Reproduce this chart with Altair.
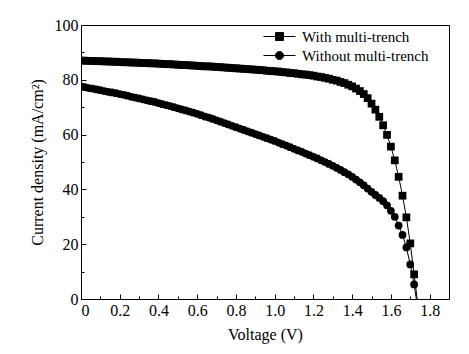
import altair as alt
import pandas as pd

# ---- data ----
voltage = [0.00, 0.02, 0.04, 0.06, 0.08, 0.10, 0.12, 0.14, 0.16, 0.18,
           0.20, 0.22, 0.24, 0.26, 0.28, 0.30, 0.32, 0.34, 0.36, 0.38,
           0.40, 0.42, 0.44, 0.46, 0.48, 0.50, 0.52, 0.54, 0.56, 0.58,
           0.60, 0.62, 0.64, 0.66, 0.68, 0.70, 0.72, 0.74, 0.76, 0.78,
           0.80, 0.82, 0.84, 0.86, 0.88, 0.90, 0.92, 0.94, 0.96, 0.98,
           1.00, 1.02, 1.04, 1.06, 1.08, 1.10, 1.12, 1.14, 1.16, 1.18,
           1.20, 1.22, 1.24, 1.26, 1.28, 1.30, 1.32, 1.34, 1.36, 1.38,
           1.40, 1.42, 1.44, 1.46, 1.48, 1.50, 1.52, 1.54, 1.56, 1.58,
           1.60, 1.62, 1.64, 1.66, 1.68, 1.70, 1.72, 1.74]

j_with = [87.0, 87.0, 86.9, 86.9, 86.8, 86.8, 86.7, 86.7, 86.6, 86.6,
          86.5, 86.4, 86.4, 86.3, 86.3, 86.2, 86.1, 86.1, 86.0, 86.0,
          85.9, 85.8, 85.7, 85.7, 85.6, 85.5, 85.4, 85.4, 85.3, 85.2,
          85.1, 85.0, 84.9, 84.9, 84.8, 84.7, 84.6, 84.5, 84.4, 84.3,
          84.2, 84.1, 84.0, 83.9, 83.8, 83.7, 83.6, 83.5, 83.3, 83.2,
          83.1, 83.0, 82.8, 82.7, 82.5, 82.4, 82.2, 82.0, 81.9, 81.7,
          81.5, 81.2, 81.0, 80.7, 80.4, 80.0, 79.7, 79.2, 78.8, 78.2,
          77.6, 76.8, 75.9, 74.8, 73.3, 71.3, 69.1, 66.5, 63.4, 59.9,
          55.6, 50.6, 44.6, 37.7, 29.8, 20.3, 9.0, -2.5]

j_without = [77.6, 77.3, 77.0, 76.8, 76.5, 76.2, 75.9, 75.6, 75.4, 75.1,
             74.8, 74.5, 74.2, 73.8, 73.5, 73.2, 72.9, 72.5, 72.2, 71.9,
             71.5, 71.1, 70.8, 70.4, 70.0, 69.6, 69.2, 68.8, 68.4, 68.0,
             67.6, 67.1, 66.6, 66.2, 65.7, 65.2, 64.7, 64.2, 63.7, 63.2,
             62.7, 62.2, 61.7, 61.2, 60.7, 60.2, 59.7, 59.2, 58.7, 58.2,
             57.7, 57.1, 56.5, 56.0, 55.4, 54.8, 54.2, 53.7, 53.1, 52.5,
             51.9, 51.3, 50.6, 50.0, 49.3, 48.6, 47.9, 47.1, 46.3, 45.5,
             44.6, 43.6, 42.6, 41.5, 40.3, 39.1, 38.0, 36.9, 35.7, 34.2,
             32.2, 30.0, 26.8, 23.4, 18.8, 12.6, 5.3, -4.0]

series_names = ["With multi-trench", "Without multi-trench"]
legend_shapes = [
    "M-4,0H-1M1,0H4M-1,-1H1V1H-1Z",
    "M-4,0H-1M1,0H4M-1,0A1,1 0 1,1 1,0A1,1 0 1,1 -1,0Z",
]

x_major = [0, 0.2, 0.4, 0.6, 0.8, 1.0, 1.2, 1.4, 1.6, 1.8]
x_minor = [0.1, 0.3, 0.5, 0.7, 0.9, 1.1, 1.3, 1.5, 1.7]
y_major = [0, 20, 40, 60, 80, 100]
y_minor = [10, 30, 50, 70, 90]

rows = []
for v, a, b in zip(voltage, j_with, j_without):
    rows.append({"V": v, "J": a, "series": series_names[0]})
    rows.append({"V": v, "J": b, "series": series_names[1]})
df = pd.DataFrame(rows)

FONT = "Liberation Serif"
xscale = alt.Scale(domain=[0, 1.9], nice=False, zero=False)
yscale = alt.Scale(domain=[0, 100], nice=False)

base = alt.Chart(df)


def tick_axes(vals_x, vals_y, size):
    ax = alt.Axis(orient="bottom", values=vals_x, labels=False, domain=False,
                  grid=False, ticks=True, tickSize=size, offset=-size,
                  tickColor="black", title=None)
    ay = alt.Axis(orient="left", values=vals_y, labels=False, domain=False,
                  grid=False, ticks=True, tickSize=size, offset=-size,
                  tickColor="black", title=None)
    return ax, ay


# main axes (labels and titles)
lines = base.mark_line(color="black", strokeWidth=1, clip=True).encode(
    x=alt.X("V:Q", scale=xscale,
            axis=alt.Axis(orient="bottom", values=x_major, ticks=False, tickSize=0,
                          domain=False, grid=False, labelPadding=3,
                          labelExpr="datum.value == 0 ? '0' : format(datum.value, '.1f')",
                          title="Voltage (V)", titlePadding=8)),
    y=alt.Y("J:Q", scale=yscale,
            axis=alt.Axis(orient="left", values=y_major, ticks=False, tickSize=0,
                          domain=False, grid=False, labelPadding=3, format="d",
                          title="Current density (mA/cm²)", titlePadding=9)),
    detail="series:N",
)

# squares + major inward ticks
ax_maj, ay_maj = tick_axes(x_major, y_major, 5)
squares = base.transform_filter(
    alt.datum.series == series_names[0]
).mark_point(filled=True, color="black", size=60, shape="square", opacity=1, clip=True).encode(
    x=alt.X("V:Q", scale=xscale, axis=ax_maj),
    y=alt.Y("J:Q", scale=yscale, axis=ay_maj),
)

# circles + minor inward ticks
ax_min, ay_min = tick_axes(x_minor, y_minor, 3)
circles = base.transform_filter(
    alt.datum.series == series_names[1]
).mark_point(filled=True, color="black", size=60, shape="circle", opacity=1, clip=True).encode(
    x=alt.X("V:Q", scale=xscale, axis=ax_min),
    y=alt.Y("J:Q", scale=yscale, axis=ay_min),
)

# legend carrier (invisible marks, visible legend)
carrier = base.mark_point(filled=True, fill="black", stroke="black", strokeWidth=1,
                          opacity=0, clip=True).encode(
    x=alt.X("V:Q", scale=xscale, axis=None),
    y=alt.Y("J:Q", scale=yscale, axis=None),
    shape=alt.Shape("series:N",
                    scale=alt.Scale(domain=series_names, range=legend_shapes),
                    legend=alt.Legend(orient="none", legendX=191, legendY=4, title=None,
                                      symbolSize=64, symbolOpacity=1,
                                      symbolStrokeWidth=1, labelFont=FONT,
                                      labelFontSize=15, labelColor="black",
                                      labelOffset=15, rowPadding=3)),
)

chart = alt.layer(lines, squares, circles, carrier).resolve_axis(
    x="independent", y="independent"
).properties(
    width=368, height=274,
    autosize=alt.AutoSizeParams(type="none"),
    padding={"left": 81, "top": 25, "right": 20, "bottom": 55},
    background="white",
).configure_view(
    stroke="black", strokeWidth=1
).configure_axis(
    labelFont=FONT, labelFontSize=16, labelColor="black",
    titleFont=FONT, titleFontSize=16, titleFontWeight="normal", titleColor="black",
)

chart.save("out.html", embed_options={"renderer": "svg", "actions": False})
